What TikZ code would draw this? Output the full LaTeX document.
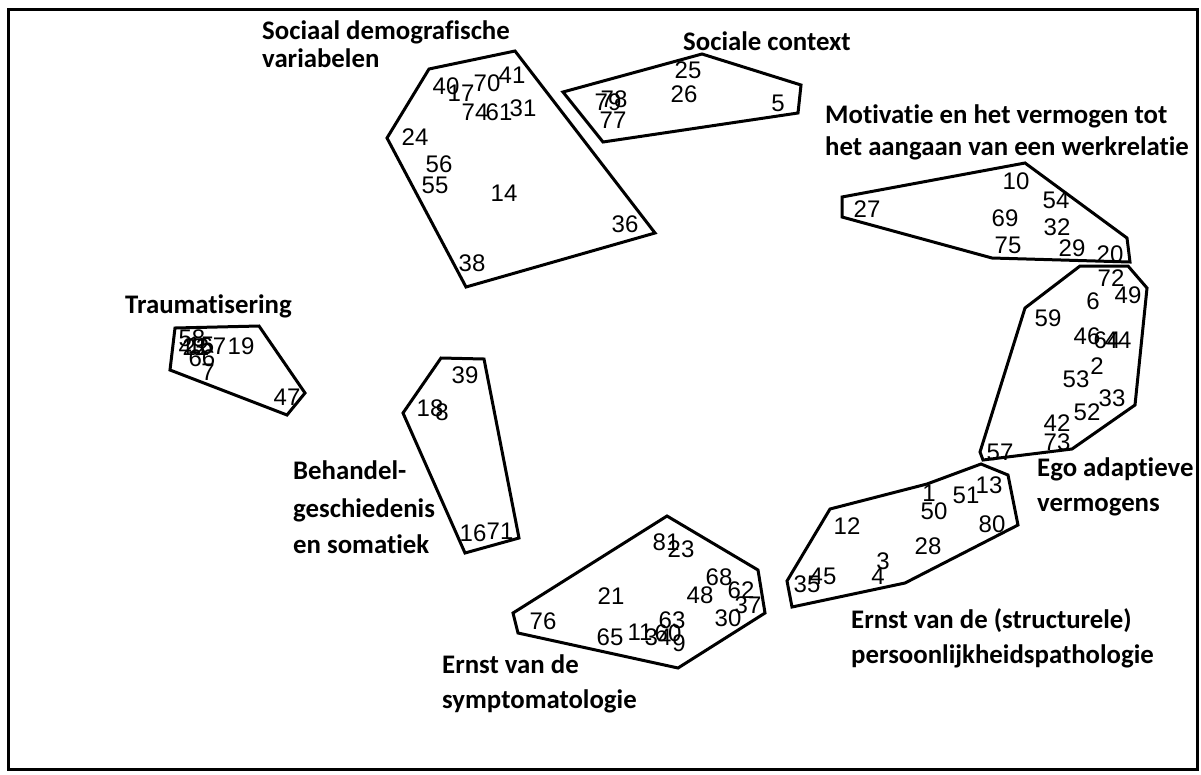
\documentclass[tikz,border=0pt]{standalone}
\usepackage{fontspec}
\setmainfont{Liberation Sans}
\newfontfamily\lblfont{Carlito}[Ligatures=NoCommon]
\tikzset{
  cluster/.style={draw=black, line width=3pt, line join=miter},
  frame/.style={draw=black, line width=3pt},
  num/.style={inner sep=0pt, font=\fontsize{24}{24}\selectfont},
  lbl/.style={inner sep=0pt, anchor=base west, font=\lblfont\bfseries\fontsize{26.8}{30}\selectfont},
}
\begin{document}
\begin{tikzpicture}[x=1pt,y=-1pt]
\useasboundingbox (0,0) rectangle (1201,774);
\draw[frame] (8,9) rectangle (1197,769);

% clusters
\draw[cluster] (429,69)--(515,51)--(655,233)--(466,287)--(387,138)--cycle;
\draw[cluster] (563,92)--(702,54)--(801,85)--(798,113)--(603,142)--cycle;
\draw[cluster] (842,197)--(1025,163)--(1127,238)--(1130,262)--(992,258)--(842,217)--cycle;
\draw[cluster] (1080,266)--(1128,266)--(1147,288)--(1135,405)--(1072,449)--(983,460)--(980,452)--(1025,308)--cycle;
\draw[cluster] (830,509)--(927,484)--(981,464)--(1008,475)--(1018,525)--(905,583)--(792,607)--(787,581)--cycle;
\draw[cluster] (667,516)--(758,570)--(765,613)--(678,668)--(518,633)--(513,613)--cycle;
\draw[cluster] (441,358)--(484,359)--(519,538)--(465,553)--(403,413)--cycle;
\draw[cluster] (175,328)--(259,326)--(305,393)--(287,415)--(170,370)--cycle;

% labels
\node[lbl] (lsd1) at (262,39) {Sociaal demografische};
\node[lbl] (lsd2) at (262,67) {variabelen};
\node[lbl] (lsc) at (683,50) {Sociale context};
\node[lbl] (lmo1) at (825,123) {Motivatie en het vermogen tot};
\node[lbl] (lmo2) at (825,155) {het aangaan van een werkrelatie};
\node[lbl] (ltr) at (125,313) {Traumatisering};
\node[lbl] (lbh1) at (293,479) {Behandel-};
\node[lbl] (lbh2) at (293,517) {geschiedenis};
\node[lbl] (lbh3) at (293,553) {en somatiek};
\node[lbl] (leg1) at (1037,476) {Ego adaptieve};
\node[lbl] (leg2) at (1037,511) {vermogens};
\node[lbl] (lsp1) at (851,628) {Ernst van de (structurele)};
\node[lbl] (lsp2) at (851,663) {persoonlijkheidspathologie};
\node[lbl] (lsy1) at (442,673) {Ernst van de};
\node[lbl] (lsy2) at (442,708) {symptomatologie};

% Sociaal demografische variabelen
\node[num] (n40) at (446,86) {40};
\node[num] (n17) at (461,93) {17};
\node[num] (n70) at (487,83) {70};
\node[num] (n41) at (512,75) {41};
\node[num] (n74) at (475,112) {74};
\node[num] (n61) at (499,112) {61};
\node[num] (n31) at (523,108) {31};
\node[num] (n24) at (415,137) {24};
\node[num] (n56) at (439,164) {56};
\node[num] (n55) at (435,185) {55};
\node[num] (n14) at (504,193) {14};
\node[num] (n36) at (625,224) {36};
\node[num] (n38) at (472,263) {38};

% Sociale context
\node[num] (n79) at (608,102) {79};
\node[num] (n78) at (614,99) {78};
\node[num] (n77) at (613,120) {77};
\node[num] (n25) at (688,70) {25};
\node[num] (n26) at (684,94) {26};
\node[num] (n5) at (778,103) {5};

% Motivatie
\node[num] (n10) at (1016,181) {10};
\node[num] (n54) at (1056,200) {54};
\node[num] (n27) at (867,209) {27};
\node[num] (n69) at (1005,218) {69};
\node[num] (n32) at (1057,227) {32};
\node[num] (n75) at (1008,245) {75};
\node[num] (n29) at (1072,248) {29};
\node[num] (n20) at (1110,254) {20};

% Ego adaptieve vermogens
\node[num] (n72) at (1111,278) {72};
\node[num] (n6) at (1093,301) {6};
\node[num] (n49) at (1128,295) {49};
\node[num] (n59) at (1048,318) {59};
\node[num] (n46) at (1087,336) {46};
\node[num] (n64) at (1107,340) {64};
\node[num] (n44) at (1118,340) {44};
\node[num] (n2) at (1097,366) {2};
\node[num] (n53) at (1076,379) {53};
\node[num] (n33) at (1112,398) {33};
\node[num] (n52) at (1087,412) {52};
\node[num] (n42) at (1057,423) {42};
\node[num] (n73) at (1057,442) {73};
\node[num] (n57) at (1000,452) {57};

% Structurele persoonlijkheidspathologie
\node[num] (n1) at (929,493) {1};
\node[num] (n50) at (934,511) {50};
\node[num] (n51) at (966,495) {51};
\node[num] (n13) at (989,485) {13};
\node[num] (n12) at (847,526) {12};
\node[num] (n80) at (992,524) {80};
\node[num] (n28) at (928,546) {28};
\node[num] (n3) at (883,561) {3};
\node[num] (n4) at (878,576) {4};
\node[num] (n45) at (823,576) {45};
\node[num] (n35) at (807,584) {35};

% Symptomatologie
\node[num] (n81) at (666,542) {81};
\node[num] (n23) at (681,549) {23};
\node[num] (n68) at (719,577) {68};
\node[num] (n62) at (741,590) {62};
\node[num] (n37) at (748,605) {37};
\node[num] (n48) at (700,595) {48};
\node[num] (n21) at (611,596) {21};
\node[num] (n30) at (728,618) {30};
\node[num] (n76) at (543,621) {76};
\node[num] (n63) at (672,620) {63};
\node[num] (n65) at (610,637) {65};
\node[num] (n11) at (640,632) {11};
\node[num] (n34) at (658,637) {34};
\node[num] (n60) at (668,633) {60};
\node[num] (n9) at (679,643) {9};

% Behandelgeschiedenis
\node[num] (n39) at (465,375) {39};
\node[num] (n18) at (430,408) {18};
\node[num] (n8) at (442,412) {8};
\node[num] (n16) at (473,533) {16};
\node[num] (n71) at (500,531) {71};

% Traumatisering
\node[num] (n58) at (192,338) {58};
\node[num] (n43) at (192,347) {43};
\node[num] (n22) at (196,347) {22};
\node[num] (n15) at (201,345) {15};
\node[num] (n67) at (213,346) {67};
\node[num] (n19) at (241,346) {19};
\node[num] (n66) at (202,358) {66};
\node[num] (n7) at (208,372) {7};
\node[num] (n47) at (287,397) {47};
\end{tikzpicture}
\end{document}
